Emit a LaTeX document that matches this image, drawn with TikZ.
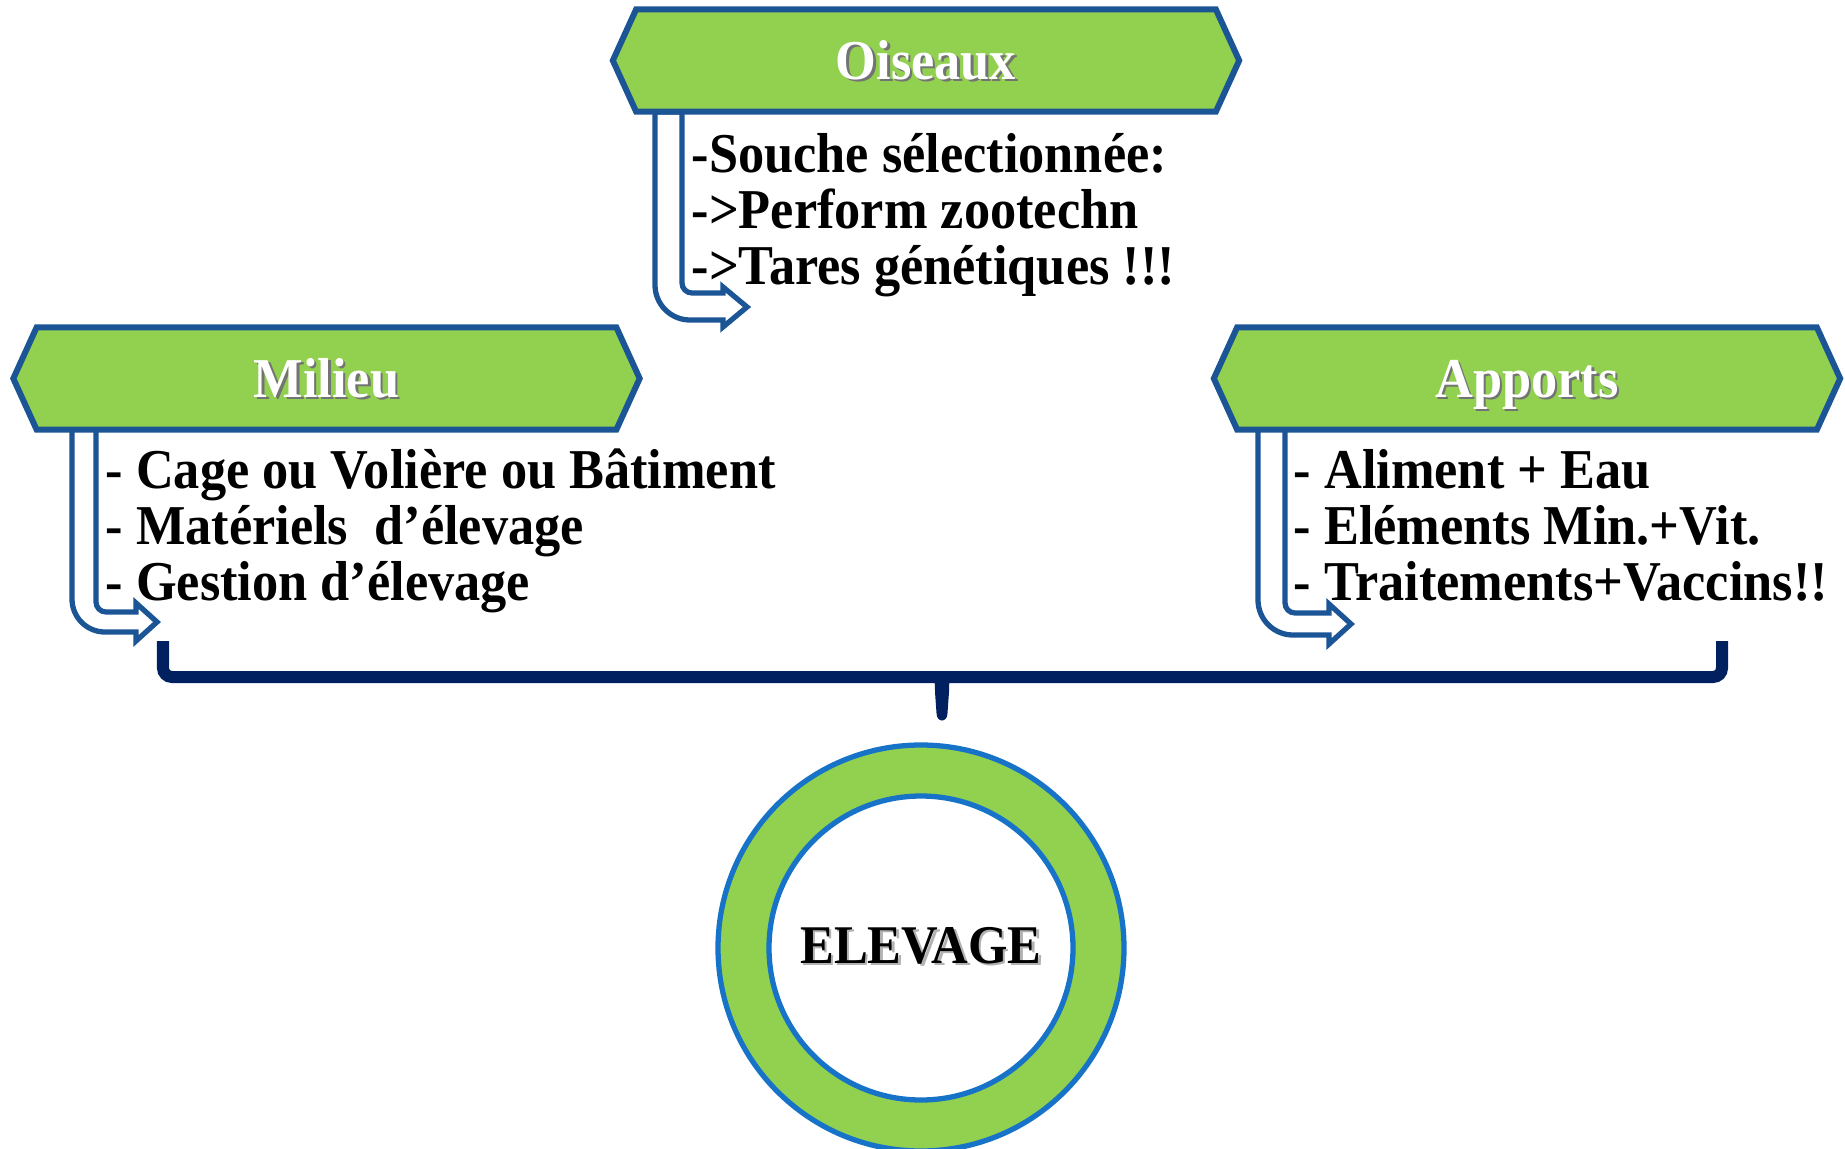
\documentclass[tikz,border=0pt]{standalone}
\usepackage{fontspec}
\setmainfont{Liberation Serif}[FakeStretch=0.93]
\usetikzlibrary{shapes.symbols}

\definecolor{leafgreen}{HTML}{92D050}
\definecolor{edgeblue}{HTML}{1C5596}
\definecolor{ringblue}{HTML}{1673C8}
\definecolor{bracenavy}{HTML}{002060}
\newcommand{\shtext}[2]{\makebox[0pt][l]{\kern0.7pt\raisebox{-0.7pt}{\textcolor{#1}{#2}}}#2}

\begin{document}
\begin{tikzpicture}[x=0.01cm,y=-0.01cm,
    header/.style={signal, signal to=west and east, signal pointer angle=131,
      draw=edgeblue, line width=1.7pt, fill=leafgreen,
      minimum width=6.26cm, minimum height=1.02cm,
      text height=10.6pt, text depth=0pt, text=white,
      font=\fontsize{16}{18}\selectfont\bfseries},
    item/.style={anchor=base west, inner sep=0pt, font=\fontsize{16}{18}\selectfont\bfseries},
    bent/.style={draw=edgeblue, line width=1.5pt},
    brace/.style={draw=bracenavy, line width=0.12cm, rounded corners=0.09cm}]
  \useasboundingbox (0,0) rectangle (1845,1148);

  % bent arrows below the headers
  \draw[bent] (682,112) -- (682,283) .. controls (682,288.5) and (686.5,293) .. (692,293) -- (723,293) -- (723,287)
    -- (747,307) -- (723,327) -- (723,320) -- (690,320) .. controls (670.7,320) and (655,304.3) .. (655,285) -- (655,112) -- cycle;
  \draw[bent] (96,429) -- (96,602) .. controls (96,607.5) and (100.5,612) .. (106,612) -- (136,612) -- (136,603)
    -- (157,622) -- (136,641) -- (136,632) -- (105,632) .. controls (86.7,632) and (72,617.3) .. (72,599) -- (72,429) -- cycle;
  \draw[bent] (1285,429) -- (1285,603) .. controls (1285,608.5) and (1289.5,613) .. (1295,613) -- (1329,613) -- (1329,604)
    -- (1351,624) -- (1329,644) -- (1329,635) -- (1293,635) .. controls (1273.7,635) and (1258,619.3) .. (1258,600) -- (1258,429) -- cycle;

  % headers
  \node[header] (oiseaux) at (926,60.5) {\shtext{black!55}{Oiseaux}};
  \node[header] (milieu) at (326.5,378.5) {\shtext{black!55}{Milieu}};
  \node[header] (apports) at (1527,378.5) {\shtext{black!55}{Apports}};

  % lists
  \foreach \txt [count=\i] in {-Souche sélectionnée:, ->Perform zootechn, ->Tares génétiques !!!}
    \node[item] (ois\i) at (691,{172+56*(\i-1)}) {\txt};
  \foreach \txt [count=\i] in {- Cage ou Volière ou Bâtiment, - Matériels~ d’élevage, - Gestion d’élevage}
    \node[item] (mil\i) at (105,{488+56*(\i-1)}) {\txt};
  \foreach \txt [count=\i] in {- Aliment + Eau, - Eléments Min.+Vit., - Traitements+Vaccins!!}
    \node[item] (app\i) at (1293,{488+56*(\i-1)}) {\txt};

  % brace
  \draw[brace] (163,641) -- (163,677) -- (1722,677) -- (1722,641);
  \fill[bracenavy] (924,677) .. controls (935,679) .. (935,692) -- (936.5,713)
    .. controls (936.5,723) and (947.5,723) .. (947.5,713) -- (949,692) .. controls (949,679) .. (960,677) -- cycle;

  % ring
  \coordinate (hub) at (921,948);
  \fill[leafgreen, even odd rule] (hub) circle[radius=203] (hub) circle[radius=152];
  \draw[ringblue, line width=1.5pt] (hub) circle[radius=203] (hub) circle[radius=152];
  \node[font=\fontsize{15.5}{18}\selectfont\bfseries, text depth=0pt] (elevage) at (921,945)
    {\shtext{black!30}{ELEVAGE}};
\end{tikzpicture}
\end{document}
